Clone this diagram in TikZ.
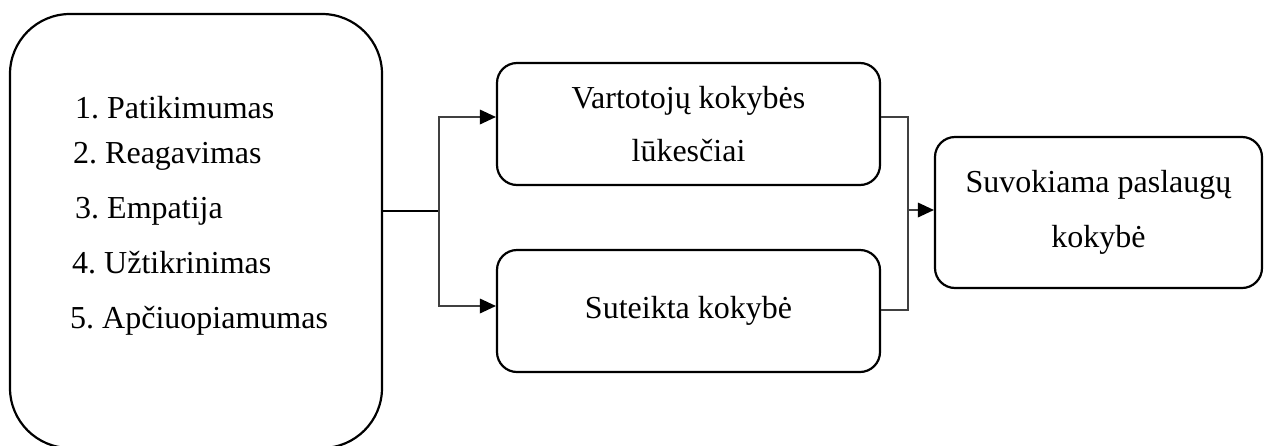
\documentclass[tikz,border=0pt]{standalone}
\usepackage{fontspec}
\setmainfont{Liberation Serif}
\usetikzlibrary{arrows.meta}
\frenchspacing
\begin{document}
\begin{tikzpicture}[x=1pt,y=-1pt,
  txt/.style={font=\fontsize{32}{53}\selectfont},
  box/.style={draw, line width=2.2pt, rounded corners=20pt, inner sep=0pt,
    align=center, txt},
  bigbox/.style={draw, line width=2.2pt, rounded corners=60pt, inner sep=0pt,
    minimum width=372pt, minimum height=434pt},
  item/.style={txt, anchor=base west, inner sep=0pt},
  link/.style={draw=black!75, line width=1.4pt},
  arr/.style={link, -{Triangle[length=16pt,width=15pt,color=black,fill=black,line width=0pt]}}]
\useasboundingbox (0,0) rectangle (1266,445);
\clip (0,0) rectangle (1266,445);

% dimensions of service quality
\node[bigbox] (dims) at (196,231) {};
\node[item] (d1) at (75,118) {1. Patikimumas};
\node[item] (d2) at (73,163) {2. Reagavimas};
\node[item] (d3) at (75,218) {3. Empatija};
\node[item] (d4) at (72,273) {4. Užtikrinimas};
\node[item] (d5) at (70,328) {5. Apčiuopiamumas};

% expected and delivered quality
\node[box, minimum width=383pt, minimum height=122pt]
  (expect) at (688.5,124) {Vartotojų kokybės\\lūkesčiai};
\node[box, minimum width=383pt, minimum height=122pt]
  (given) at (688.5,311) {Suteikta kokybė};

% perceived quality
\node[box, minimum width=327pt, minimum height=151pt, font=\fontsize{32}{55}\selectfont]
  (perceived) at (1098.5,212.5) {Suvokiama paslaugų\\kokybė};

% connectors
\coordinate (split) at (439,211);
\coordinate (upY) at (0,117);
\coordinate (downY) at (0,306);
\coordinate (upOut) at (0,117);
\coordinate (downOut) at (0,310);
\coordinate (merge) at (908,210);

\draw[draw=black, line width=2pt] (dims.east |- split) -- (split);
\draw[arr] (split) |- (expect.west |- upY);
\draw[arr] (split) |- (given.west |- downY);
\draw[link] (expect.east |- upOut) -| (merge);
\draw[link] (given.east |- downOut) -| (merge);
\draw[arr] (merge) -- (perceived.west |- merge);
\end{tikzpicture}
\end{document}
